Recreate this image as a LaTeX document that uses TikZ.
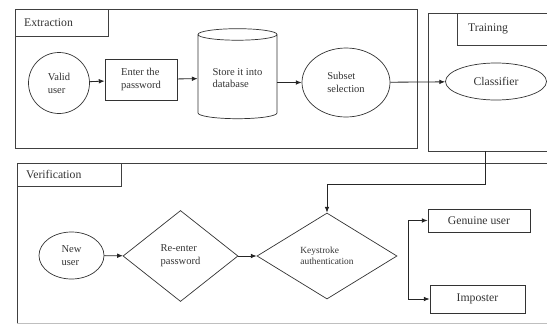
\documentclass[tikz,border=0pt]{standalone}
\usepackage{fontspec}
\setmainfont{Liberation Serif}
\usetikzlibrary{shapes.geometric,arrows.meta}
\tikzset{
  frame/.style={draw=black!75,line width=0.6pt},
  stepbox/.style={draw=black!80,line width=0.6pt,rectangle,inner sep=2pt},
  oval/.style={draw=black!80,line width=0.6pt,ellipse,inner sep=0pt},
  decision/.style={draw=black!80,line width=0.6pt,diamond,inner sep=0pt},
  flow/.style={draw=black!85,line width=0.7pt,-{Latex[length=5pt,width=4pt]}}
}
\begin{document}
\begin{tikzpicture}[x=0.03cm,y=-0.03cm,font=\small,text=black!80]
      \useasboundingbox (0,0) rectangle (547,324);
      % frames
      \draw[frame] (15,9) rectangle (417,148);
      \draw[frame] (15,9) rectangle (108,36);
      \draw[frame] (547,13) -- (428,13) -- (428,151) -- (547,151);
      \draw[frame] (457,13) -- (457,45) -- (547,45);
      \draw[frame] (547,163) -- (17,163) -- (17,324);
      \draw[frame,black!25] (17,323) -- (547,323);
      \draw[frame] (17,163) rectangle (121,186);
      \node[anchor=west,font=\normalsize] (extraction) at (20,22.5) {Extraction};
      \node[anchor=west,font=\normalsize] (training) at (464,29) {Training};
      \node[anchor=west,font=\normalsize] (verification) at (22,174.5) {Verification};
      % extraction
      \node[oval,minimum width=1.83cm,minimum height=1.83cm,align=left] (valid) at (59,83) {Valid\\user};
      \node[stepbox,minimum width=2.16cm,minimum height=1.23cm,align=left] (enter) at (141,79.5) {Enter the\\password};
      \node[draw=black!80,line width=0.6pt,cylinder,shape border rotate=90,aspect=0.2,
            minimum width=2.37cm,minimum height=2.7cm,align=left] (store) at (237.5,78) {Store it into\\database};
      \node[oval,minimum width=2.64cm,minimum height=2.07cm,align=left] (subset) at (346,82.5) {Subset\\selection};
      % training
      \node[oval,minimum width=3.03cm,minimum height=1.11cm,font=\normalsize] (classifier) at (496,81.5) {Classifier};
      \coordinate (trainout) at (485,151);
      \coordinate (bend) at (485,184);
      % verification
      \node[oval,minimum width=1.95cm,minimum height=1.41cm,align=left] (newuser) at (71.5,255.5) {New\\user};
      \node[decision,minimum width=3.45cm,minimum height=2.73cm,align=left] (reenter) at (180.5,256) {Re-enter\\password};
      \node[decision,minimum width=4.2cm,minimum height=2.58cm,align=left,font=\footnotesize] (keystroke) at (327,256) {Keystroke\\authentication};
      \node[stepbox,minimum width=3.06cm,minimum height=0.69cm,font=\normalsize] (genuine) at (479,220.5) {Genuine user};
      \node[stepbox,minimum width=2.85cm,minimum height=0.84cm,font=\normalsize] (imposter) at (477.5,299) {Imposter};
      \coordinate (splittop) at (408,220.5);
      \coordinate (splitbot) at (408,299);
      % connectors
      \draw[flow] (valid) -- (enter);
      \draw[flow] (enter) -- (store);
      \draw[flow] (store.east |- subset) -- (subset);
      \draw[flow] (subset) -- (classifier);
      \draw[flow] (newuser) -- (reenter);
      \draw[flow] (reenter) -- (keystroke);
      \draw[flow] (trainout) -- (bend) -| (keystroke.north);
      \draw[flow] (splittop) -- (genuine.west);
      \draw[flow] (splitbot) -- (imposter.west);
      \draw[draw=black!85,line width=0.7pt] (splittop) -- (splitbot);
\end{tikzpicture}
\end{document}
